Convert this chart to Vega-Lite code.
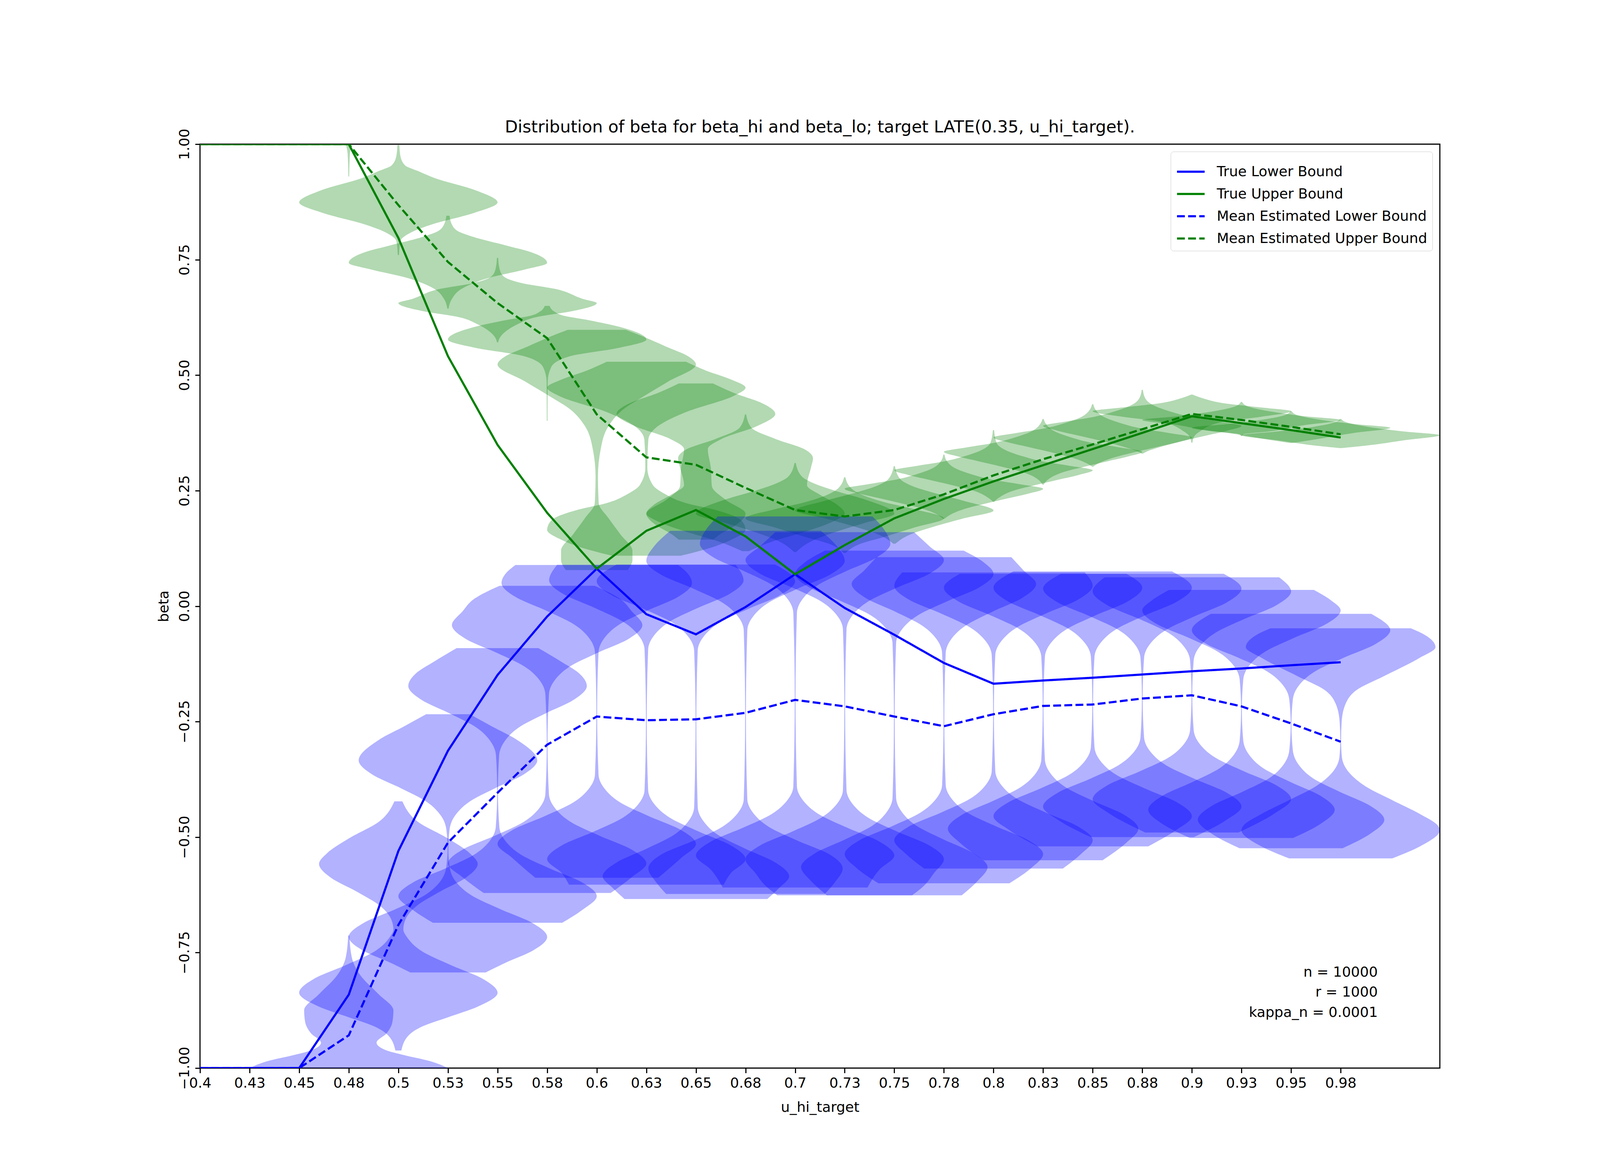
{
  "$schema": "https://vega.github.io/schema/vega-lite/v6.json",
  "width": 3174,
  "height": 2365,
  "autosize": {"type": "none"},
  "padding": {"left": 512, "top": 369, "right": 410, "bottom": 338},
  "background": "white",
  "title": {
    "text": "Distribution of beta for beta_hi and beta_lo; target LATE(0.35, u_hi_target).",
    "fontSize": 43, "fontWeight": "normal", "color": "black", "font": "DejaVu Sans",
    "anchor": "middle", "frame": "group", "offset": 18, "dy": 37
  },
  "config": {
    "font": "DejaVu Sans",
    "view": {"stroke": "black", "strokeWidth": 2.9},
    "axis": {
      "grid": false, "domain": false, "tickColor": "black", "tickWidth": 2.9, "tickSize": 12.5,
      "labelFontSize": 36, "labelColor": "black", "titleFontSize": 36, "titleColor": "black",
      "titleFontWeight": "normal", "labelFont": "DejaVu Sans", "titleFont": "DejaVu Sans",
      "labelFlush": false, "labelOverlap": false
    },
    "legend": {
      "padding": 13, "strokeColor": "#cccccc", "cornerRadius": 7, "fillColor": "white",
      "labelFontSize": 36, "labelColor": "black", "labelFont": "DejaVu Sans", "symbolType": "stroke", "symbolSize": 5000,
      "symbolStrokeWidth": 5.5, "labelOffset": 28, "rowPadding": -10, "labelLimit": 2000
    }
  },
  "datasets": {
    "hi": [
      {"c":0.475,"b":1.0,"l":0.4735,"h":0.4765},{"c":0.475,"b":0.98,"l":0.4744,"h":0.4756},{"c":0.475,"b":0.93,"l":0.4748,"h":0.4752},
      {"c":0.5,"b":0.998,"l":0.4995,"h":0.5005},{"c":0.5,"b":0.975,"l":0.499,"h":0.501},{"c":0.5,"b":0.954,"l":0.4966,"h":0.5034},{"c":0.5,"b":0.942,"l":0.4902,"h":0.5098},{"c":0.5,"b":0.927,"l":0.482,"h":0.518},{"c":0.5,"b":0.9,"l":0.461,"h":0.539},{"c":0.5,"b":0.874,"l":0.45,"h":0.55},{"c":0.5,"b":0.851,"l":0.462,"h":0.538},{"c":0.5,"b":0.827,"l":0.4825,"h":0.5175},{"c":0.5,"b":0.808,"l":0.494,"h":0.506},{"c":0.5,"b":0.79,"l":0.499,"h":0.501},{"c":0.5,"b":0.76,"l":0.4997,"h":0.5003},
      {"c":0.525,"b":0.845,"l":0.5242,"h":0.5258},{"c":0.525,"b":0.826,"l":0.523,"h":0.527},{"c":0.525,"b":0.811,"l":0.5197,"h":0.5303},{"c":0.525,"b":0.799,"l":0.512,"h":0.538},{"c":0.525,"b":0.781,"l":0.496,"h":0.554},{"c":0.525,"b":0.766,"l":0.483,"h":0.567},{"c":0.525,"b":0.743,"l":0.475,"h":0.575},{"c":0.525,"b":0.729,"l":0.486,"h":0.564},{"c":0.525,"b":0.711,"l":0.504,"h":0.546},{"c":0.525,"b":0.687,"l":0.518,"h":0.532},{"c":0.525,"b":0.665,"l":0.523,"h":0.527},{"c":0.525,"b":0.644,"l":0.5247,"h":0.5253},
      {"c":0.55,"b":0.754,"l":0.5497,"h":0.5503},{"c":0.55,"b":0.73,"l":0.549,"h":0.551},{"c":0.55,"b":0.714,"l":0.547,"h":0.553},{"c":0.55,"b":0.699,"l":0.5375,"h":0.5625},{"c":0.55,"b":0.687,"l":0.5214,"h":0.5786},{"c":0.55,"b":0.665,"l":0.507,"h":0.593},{"c":0.55,"b":0.656,"l":0.5,"h":0.6},{"c":0.55,"b":0.638,"l":0.513,"h":0.587},{"c":0.55,"b":0.626,"l":0.53,"h":0.57},{"c":0.55,"b":0.61,"l":0.54,"h":0.56},{"c":0.55,"b":0.596,"l":0.5455,"h":0.5545},{"c":0.55,"b":0.58,"l":0.549,"h":0.551},{"c":0.55,"b":0.571,"l":0.5497,"h":0.5503},
      {"c":0.575,"b":0.65,"l":0.5738,"h":0.5762},{"c":0.575,"b":0.638,"l":0.5715,"h":0.5785},{"c":0.575,"b":0.629,"l":0.567,"h":0.583},{"c":0.575,"b":0.62,"l":0.5554,"h":0.5946},{"c":0.575,"b":0.605,"l":0.539,"h":0.611},{"c":0.575,"b":0.577,"l":0.525,"h":0.625},{"c":0.575,"b":0.559,"l":0.539,"h":0.611},{"c":0.575,"b":0.541,"l":0.5634,"h":0.5866},{"c":0.575,"b":0.517,"l":0.573,"h":0.577},{"c":0.575,"b":0.486,"l":0.5747,"h":0.5753},{"c":0.575,"b":0.401,"l":0.5748,"h":0.5752},
      {"c":0.6,"b":0.598,"l":0.5854,"h":0.6146},{"c":0.6,"b":0.583,"l":0.5764,"h":0.6236},{"c":0.6,"b":0.562,"l":0.5652,"h":0.6348},{"c":0.6,"b":0.541,"l":0.554,"h":0.646},{"c":0.6,"b":0.523,"l":0.55,"h":0.65},{"c":0.6,"b":0.486,"l":0.564,"h":0.636},{"c":0.6,"b":0.455,"l":0.576,"h":0.624},{"c":0.6,"b":0.426,"l":0.5866,"h":0.6134},{"c":0.6,"b":0.39,"l":0.594,"h":0.606},{"c":0.6,"b":0.34,"l":0.598,"h":0.602},{"c":0.6,"b":0.28,"l":0.5994,"h":0.6006},{"c":0.6,"b":0.223,"l":0.599,"h":0.601},{"c":0.6,"b":0.19,"l":0.594,"h":0.606},{"c":0.6,"b":0.155,"l":0.588,"h":0.612},{"c":0.6,"b":0.12,"l":0.582,"h":0.618},{"c":0.6,"b":0.1,"l":0.582,"h":0.618},{"c":0.6,"b":0.078,"l":0.5844,"h":0.6156},
      {"c":0.625,"b":0.529,"l":0.605,"h":0.645},{"c":0.625,"b":0.51,"l":0.595,"h":0.655},{"c":0.625,"b":0.49,"l":0.582,"h":0.668},{"c":0.625,"b":0.473,"l":0.575,"h":0.675},{"c":0.625,"b":0.455,"l":0.581,"h":0.669},{"c":0.625,"b":0.42,"l":0.605,"h":0.645},{"c":0.625,"b":0.386,"l":0.6202,"h":0.6298},{"c":0.625,"b":0.36,"l":0.624,"h":0.626},{"c":0.625,"b":0.3,"l":0.6245,"h":0.6255},{"c":0.625,"b":0.262,"l":0.6217,"h":0.6283},{"c":0.625,"b":0.243,"l":0.6157,"h":0.6343},{"c":0.625,"b":0.223,"l":0.605,"h":0.645},{"c":0.625,"b":0.208,"l":0.59,"h":0.66},{"c":0.625,"b":0.185,"l":0.577,"h":0.673},{"c":0.625,"b":0.165,"l":0.575,"h":0.675},{"c":0.625,"b":0.146,"l":0.581,"h":0.669},{"c":0.625,"b":0.127,"l":0.592,"h":0.658},{"c":0.625,"b":0.109,"l":0.6077,"h":0.6423},
      {"c":0.65,"b":0.482,"l":0.6414,"h":0.6586},{"c":0.65,"b":0.46,"l":0.63,"h":0.67},{"c":0.65,"b":0.44,"l":0.617,"h":0.683},{"c":0.65,"b":0.416,"l":0.61,"h":0.69},{"c":0.65,"b":0.39,"l":0.619,"h":0.681},{"c":0.65,"b":0.362,"l":0.637,"h":0.663},{"c":0.65,"b":0.34,"l":0.644,"h":0.656},{"c":0.65,"b":0.3,"l":0.6425,"h":0.6575},{"c":0.65,"b":0.26,"l":0.642,"h":0.658},{"c":0.65,"b":0.23,"l":0.635,"h":0.665},{"c":0.65,"b":0.2,"l":0.625,"h":0.675},{"c":0.65,"b":0.175,"l":0.63,"h":0.67},{"c":0.65,"b":0.155,"l":0.638,"h":0.662},{"c":0.65,"b":0.144,"l":0.6413,"h":0.6587},
      {"c":0.675,"b":0.415,"l":0.6747,"h":0.6753},{"c":0.675,"b":0.386,"l":0.672,"h":0.678},{"c":0.675,"b":0.362,"l":0.66,"h":0.69},{"c":0.675,"b":0.339,"l":0.645,"h":0.705},{"c":0.675,"b":0.32,"l":0.641,"h":0.709},{"c":0.675,"b":0.3,"l":0.642,"h":0.708},{"c":0.675,"b":0.262,"l":0.644,"h":0.706},{"c":0.675,"b":0.24,"l":0.637,"h":0.713},{"c":0.675,"b":0.22,"l":0.629,"h":0.721},{"c":0.675,"b":0.2,"l":0.625,"h":0.725},{"c":0.675,"b":0.185,"l":0.63,"h":0.72},{"c":0.675,"b":0.161,"l":0.645,"h":0.705},{"c":0.675,"b":0.142,"l":0.66,"h":0.69},{"c":0.675,"b":0.119,"l":0.6733,"h":0.6767},
      {"c":0.7,"b":0.31,"l":0.6997,"h":0.7003},{"c":0.7,"b":0.281,"l":0.6967,"h":0.7033},{"c":0.7,"b":0.266,"l":0.6907,"h":0.7093},{"c":0.7,"b":0.25,"l":0.68,"h":0.72},{"c":0.7,"b":0.231,"l":0.665,"h":0.735},{"c":0.7,"b":0.2,"l":0.65,"h":0.75},{"c":0.7,"b":0.18,"l":0.665,"h":0.735},{"c":0.7,"b":0.16,"l":0.68,"h":0.72},{"c":0.7,"b":0.14,"l":0.692,"h":0.708},{"c":0.7,"b":0.117,"l":0.6995,"h":0.7005},
      {"c":0.725,"b":0.279,"l":0.7247,"h":0.7253},{"c":0.725,"b":0.255,"l":0.7217,"h":0.7283},{"c":0.725,"b":0.24,"l":0.7157,"h":0.7343},{"c":0.725,"b":0.225,"l":0.705,"h":0.745},{"c":0.725,"b":0.21,"l":0.69,"h":0.76},{"c":0.725,"b":0.19,"l":0.675,"h":0.775},{"c":0.725,"b":0.17,"l":0.69,"h":0.76},{"c":0.725,"b":0.15,"l":0.705,"h":0.745},{"c":0.725,"b":0.135,"l":0.717,"h":0.733},{"c":0.725,"b":0.115,"l":0.7245,"h":0.7255},
      {"c":0.75,"b":0.303,"l":0.7497,"h":0.7503},{"c":0.75,"b":0.275,"l":0.747,"h":0.753},{"c":0.75,"b":0.26,"l":0.741,"h":0.759},{"c":0.75,"b":0.245,"l":0.73,"h":0.77},{"c":0.75,"b":0.228,"l":0.715,"h":0.785},{"c":0.75,"b":0.207,"l":0.7,"h":0.8},{"c":0.75,"b":0.19,"l":0.715,"h":0.785},{"c":0.75,"b":0.172,"l":0.73,"h":0.77},{"c":0.75,"b":0.155,"l":0.742,"h":0.758},{"c":0.75,"b":0.135,"l":0.7495,"h":0.7505},
      {"c":0.775,"b":0.328,"l":0.7747,"h":0.7753},{"c":0.775,"b":0.314,"l":0.7735,"h":0.7765},{"c":0.775,"b":0.299,"l":0.7695,"h":0.7805},{"c":0.775,"b":0.284,"l":0.76,"h":0.79},{"c":0.775,"b":0.274,"l":0.751,"h":0.799},{"c":0.775,"b":0.264,"l":0.737,"h":0.813},{"c":0.775,"b":0.254,"l":0.725,"h":0.825},{"c":0.775,"b":0.244,"l":0.732,"h":0.818},{"c":0.775,"b":0.234,"l":0.742,"h":0.808},{"c":0.775,"b":0.224,"l":0.752,"h":0.798},{"c":0.775,"b":0.209,"l":0.7655,"h":0.7845},{"c":0.775,"b":0.196,"l":0.7725,"h":0.7775},{"c":0.775,"b":0.189,"l":0.7747,"h":0.7753},
      {"c":0.8,"b":0.381,"l":0.7997,"h":0.8003},{"c":0.8,"b":0.354,"l":0.7985,"h":0.8015},{"c":0.8,"b":0.339,"l":0.7945,"h":0.8055},{"c":0.8,"b":0.324,"l":0.785,"h":0.815},{"c":0.8,"b":0.314,"l":0.776,"h":0.824},{"c":0.8,"b":0.304,"l":0.762,"h":0.838},{"c":0.8,"b":0.294,"l":0.75,"h":0.85},{"c":0.8,"b":0.284,"l":0.757,"h":0.843},{"c":0.8,"b":0.274,"l":0.767,"h":0.833},{"c":0.8,"b":0.264,"l":0.777,"h":0.823},{"c":0.8,"b":0.249,"l":0.7905,"h":0.8095},{"c":0.8,"b":0.234,"l":0.7975,"h":0.8025},{"c":0.8,"b":0.226,"l":0.7997,"h":0.8003},
      {"c":0.825,"b":0.405,"l":0.8247,"h":0.8253},{"c":0.825,"b":0.394,"l":0.8235,"h":0.8265},{"c":0.825,"b":0.379,"l":0.8195,"h":0.8305},{"c":0.825,"b":0.364,"l":0.81,"h":0.84},{"c":0.825,"b":0.354,"l":0.801,"h":0.849},{"c":0.825,"b":0.344,"l":0.787,"h":0.863},{"c":0.825,"b":0.334,"l":0.775,"h":0.875},{"c":0.825,"b":0.324,"l":0.782,"h":0.868},{"c":0.825,"b":0.314,"l":0.792,"h":0.858},{"c":0.825,"b":0.304,"l":0.802,"h":0.848},{"c":0.825,"b":0.289,"l":0.8155,"h":0.8345},{"c":0.825,"b":0.274,"l":0.8225,"h":0.8275},{"c":0.825,"b":0.263,"l":0.8247,"h":0.8253},
      {"c":0.85,"b":0.437,"l":0.8497,"h":0.8503},{"c":0.85,"b":0.425,"l":0.8485,"h":0.8515},{"c":0.85,"b":0.41,"l":0.8445,"h":0.8555},{"c":0.85,"b":0.395,"l":0.835,"h":0.865},{"c":0.85,"b":0.385,"l":0.826,"h":0.874},{"c":0.85,"b":0.375,"l":0.812,"h":0.888},{"c":0.85,"b":0.365,"l":0.8,"h":0.9},{"c":0.85,"b":0.355,"l":0.807,"h":0.893},{"c":0.85,"b":0.345,"l":0.817,"h":0.883},{"c":0.85,"b":0.335,"l":0.827,"h":0.873},{"c":0.85,"b":0.32,"l":0.8405,"h":0.8595},{"c":0.85,"b":0.308,"l":0.8475,"h":0.8525},{"c":0.85,"b":0.302,"l":0.8497,"h":0.8503},
      {"c":0.875,"b":0.468,"l":0.8747,"h":0.8753},{"c":0.875,"b":0.45,"l":0.8735,"h":0.8765},{"c":0.875,"b":0.435,"l":0.8695,"h":0.8805},{"c":0.875,"b":0.42,"l":0.86,"h":0.89},{"c":0.875,"b":0.41,"l":0.851,"h":0.899},{"c":0.875,"b":0.4,"l":0.837,"h":0.913},{"c":0.875,"b":0.39,"l":0.825,"h":0.925},{"c":0.875,"b":0.38,"l":0.832,"h":0.918},{"c":0.875,"b":0.37,"l":0.842,"h":0.908},{"c":0.875,"b":0.36,"l":0.852,"h":0.898},{"c":0.875,"b":0.345,"l":0.8655,"h":0.8845},{"c":0.875,"b":0.335,"l":0.8725,"h":0.8775},{"c":0.875,"b":0.33,"l":0.8747,"h":0.8753},
      {"c":0.9,"b":0.458,"l":0.8997,"h":0.9003},{"c":0.9,"b":0.45,"l":0.8945,"h":0.9055},{"c":0.9,"b":0.439,"l":0.8834,"h":0.9166},{"c":0.9,"b":0.43,"l":0.865,"h":0.935},{"c":0.9,"b":0.422,"l":0.85,"h":0.95},{"c":0.9,"b":0.41,"l":0.865,"h":0.935},{"c":0.9,"b":0.4,"l":0.8834,"h":0.9166},{"c":0.9,"b":0.378,"l":0.896,"h":0.904},{"c":0.9,"b":0.366,"l":0.899,"h":0.901},{"c":0.9,"b":0.354,"l":0.8997,"h":0.9003},
      {"c":0.925,"b":0.442,"l":0.9247,"h":0.9253},{"c":0.925,"b":0.433,"l":0.9222,"h":0.9278},{"c":0.925,"b":0.422,"l":0.9112,"h":0.9388},{"c":0.925,"b":0.411,"l":0.893,"h":0.957},{"c":0.925,"b":0.403,"l":0.875,"h":0.975},{"c":0.925,"b":0.392,"l":0.893,"h":0.957},{"c":0.925,"b":0.378,"l":0.9112,"h":0.9388},{"c":0.925,"b":0.372,"l":0.924,"h":0.926},{"c":0.925,"b":0.368,"l":0.9247,"h":0.9253},
      {"c":0.95,"b":0.422,"l":0.9497,"h":0.9503},{"c":0.95,"b":0.414,"l":0.9472,"h":0.9528},{"c":0.95,"b":0.404,"l":0.9362,"h":0.9638},{"c":0.95,"b":0.394,"l":0.918,"h":0.982},{"c":0.95,"b":0.386,"l":0.9,"h":1.0},{"c":0.95,"b":0.375,"l":0.918,"h":0.982},{"c":0.95,"b":0.362,"l":0.9362,"h":0.9638},{"c":0.95,"b":0.353,"l":0.9497,"h":0.9503},
      {"c":0.975,"b":0.405,"l":0.9747,"h":0.9753},{"c":0.975,"b":0.398,"l":0.9722,"h":0.9778},{"c":0.975,"b":0.388,"l":0.9612,"h":0.9888},{"c":0.975,"b":0.378,"l":0.943,"h":1.007},{"c":0.975,"b":0.37,"l":0.925,"h":1.025},{"c":0.975,"b":0.359,"l":0.943,"h":1.007},{"c":0.975,"b":0.348,"l":0.9612,"h":0.9888},{"c":0.975,"b":0.342,"l":0.9747,"h":0.9753}
    ],
    "lo": [
      {"c":0.475,"b":-0.713,"l":0.4747,"h":0.4753},{"c":0.475,"b":-0.76,"l":0.4735,"h":0.4765},{"c":0.475,"b":-0.8,"l":0.469,"h":0.481},{"c":0.475,"b":-0.84,"l":0.46,"h":0.49},{"c":0.475,"b":-0.875,"l":0.4525,"h":0.4975},{"c":0.475,"b":-0.9,"l":0.453,"h":0.497},{"c":0.475,"b":-0.925,"l":0.456,"h":0.494},{"c":0.475,"b":-0.945,"l":0.461,"h":0.489},{"c":0.475,"b":-0.961,"l":0.4564,"h":0.4936},{"c":0.475,"b":-0.971,"l":0.448,"h":0.502},{"c":0.475,"b":-0.985,"l":0.434,"h":0.516},{"c":0.475,"b":-1.0,"l":0.425,"h":0.525},
      {"c":0.5,"b":-0.4226,"l":0.498,"h":0.502},{"c":0.5,"b":-0.467,"l":0.4901,"h":0.5099},{"c":0.5,"b":-0.503,"l":0.475,"h":0.525},{"c":0.5,"b":-0.535,"l":0.464,"h":0.536},{"c":0.5,"b":-0.558,"l":0.46,"h":0.54},{"c":0.5,"b":-0.588,"l":0.466,"h":0.534},{"c":0.5,"b":-0.618,"l":0.479,"h":0.521},{"c":0.5,"b":-0.648,"l":0.4905,"h":0.5095},{"c":0.5,"b":-0.678,"l":0.4964,"h":0.5036},{"c":0.5,"b":-0.7,"l":0.4975,"h":0.5025},{"c":0.5,"b":-0.717,"l":0.4956,"h":0.5044},{"c":0.5,"b":-0.747,"l":0.4882,"h":0.5118},{"c":0.5,"b":-0.777,"l":0.4736,"h":0.5264},{"c":0.5,"b":-0.807,"l":0.4574,"h":0.5426},{"c":0.5,"b":-0.837,"l":0.45,"h":0.55},{"c":0.5,"b":-0.867,"l":0.46,"h":0.54},{"c":0.5,"b":-0.89,"l":0.475,"h":0.525},{"c":0.5,"b":-0.91,"l":0.488,"h":0.512},{"c":0.5,"b":-0.93,"l":0.495,"h":0.505},{"c":0.5,"b":-0.962,"l":0.4985,"h":0.5015},
      {"c":0.525,"b":-0.234,"l":0.514,"h":0.536},{"c":0.525,"b":-0.26,"l":0.503,"h":0.547},{"c":0.525,"b":-0.29,"l":0.49,"h":0.56},{"c":0.525,"b":-0.334,"l":0.48,"h":0.57},{"c":0.525,"b":-0.364,"l":0.4867,"h":0.5633},{"c":0.525,"b":-0.394,"l":0.5012,"h":0.5488},{"c":0.525,"b":-0.424,"l":0.5144,"h":0.5356},{"c":0.525,"b":-0.454,"l":0.5215,"h":0.5285},{"c":0.525,"b":-0.484,"l":0.5242,"h":0.5258},{"c":0.525,"b":-0.525,"l":0.5248,"h":0.5252},{"c":0.525,"b":-0.566,"l":0.5241,"h":0.5259},{"c":0.525,"b":-0.596,"l":0.5211,"h":0.5289},{"c":0.525,"b":-0.626,"l":0.5132,"h":0.5368},{"c":0.525,"b":-0.656,"l":0.4986,"h":0.5514},{"c":0.525,"b":-0.686,"l":0.4824,"h":0.5676},{"c":0.525,"b":-0.716,"l":0.475,"h":0.575},{"c":0.525,"b":-0.746,"l":0.4824,"h":0.5676},{"c":0.525,"b":-0.77,"l":0.495,"h":0.555},{"c":0.525,"b":-0.793,"l":0.506,"h":0.544},
      {"c":0.55,"b":-0.091,"l":0.5294,"h":0.5706},{"c":0.55,"b":-0.12,"l":0.518,"h":0.582},{"c":0.55,"b":-0.145,"l":0.509,"h":0.591},{"c":0.55,"b":-0.173,"l":0.505,"h":0.595},{"c":0.55,"b":-0.203,"l":0.5117,"h":0.5883},{"c":0.55,"b":-0.233,"l":0.5262,"h":0.5738},{"c":0.55,"b":-0.263,"l":0.5394,"h":0.5606},{"c":0.55,"b":-0.293,"l":0.5465,"h":0.5535},{"c":0.55,"b":-0.323,"l":0.5492,"h":0.5508},{"c":0.55,"b":-0.4,"l":0.5498,"h":0.5502},{"c":0.55,"b":-0.478,"l":0.5491,"h":0.5509},{"c":0.55,"b":-0.508,"l":0.5461,"h":0.5539},{"c":0.55,"b":-0.538,"l":0.5382,"h":0.5618},{"c":0.55,"b":-0.568,"l":0.5236,"h":0.5764},{"c":0.55,"b":-0.598,"l":0.5074,"h":0.5926},{"c":0.55,"b":-0.628,"l":0.5,"h":0.6},{"c":0.55,"b":-0.658,"l":0.5074,"h":0.5926},{"c":0.55,"b":-0.6855,"l":0.5174,"h":0.5826},
      {"c":0.575,"b":0.044,"l":0.551,"h":0.599},{"c":0.575,"b":0.015,"l":0.538,"h":0.612},{"c":0.575,"b":-0.011,"l":0.5324,"h":0.6176},{"c":0.575,"b":-0.041,"l":0.527,"h":0.623},{"c":0.575,"b":-0.071,"l":0.534,"h":0.616},{"c":0.575,"b":-0.101,"l":0.5496,"h":0.6004},{"c":0.575,"b":-0.131,"l":0.5637,"h":0.5863},{"c":0.575,"b":-0.161,"l":0.5713,"h":0.5787},{"c":0.575,"b":-0.191,"l":0.5741,"h":0.5759},{"c":0.575,"b":-0.3,"l":0.5748,"h":0.5752},{"c":0.575,"b":-0.407,"l":0.5741,"h":0.5759},{"c":0.575,"b":-0.437,"l":0.5711,"h":0.5789},{"c":0.575,"b":-0.467,"l":0.5632,"h":0.5868},{"c":0.575,"b":-0.497,"l":0.5486,"h":0.6014},{"c":0.575,"b":-0.527,"l":0.5324,"h":0.6176},{"c":0.575,"b":-0.557,"l":0.525,"h":0.625},{"c":0.575,"b":-0.587,"l":0.5324,"h":0.6176},{"c":0.575,"b":-0.621,"l":0.543,"h":0.607},
      {"c":0.6,"b":0.089,"l":0.559,"h":0.641},{"c":0.6,"b":0.07,"l":0.554,"h":0.646},{"c":0.6,"b":0.05,"l":0.552,"h":0.648},{"c":0.6,"b":0.02,"l":0.559,"h":0.641},{"c":0.6,"b":-0.01,"l":0.5746,"h":0.6254},{"c":0.6,"b":-0.04,"l":0.5887,"h":0.6113},{"c":0.6,"b":-0.07,"l":0.5963,"h":0.6037},{"c":0.6,"b":-0.1,"l":0.5991,"h":0.6009},{"c":0.6,"b":-0.23,"l":0.5998,"h":0.6002},{"c":0.6,"b":-0.365,"l":0.5991,"h":0.6009},{"c":0.6,"b":-0.395,"l":0.5961,"h":0.6039},{"c":0.6,"b":-0.425,"l":0.5882,"h":0.6118},{"c":0.6,"b":-0.455,"l":0.5736,"h":0.6264},{"c":0.6,"b":-0.485,"l":0.5574,"h":0.6426},{"c":0.6,"b":-0.515,"l":0.55,"h":0.65},{"c":0.6,"b":-0.545,"l":0.5574,"h":0.6426},{"c":0.6,"b":-0.588,"l":0.569,"h":0.631},
      {"c":0.625,"b":0.0895,"l":0.58,"h":0.67},{"c":0.625,"b":0.056,"l":0.576,"h":0.674},{"c":0.625,"b":0.026,"l":0.5832,"h":0.6668},{"c":0.625,"b":-0.004,"l":0.5991,"h":0.6509},{"c":0.625,"b":-0.034,"l":0.6134,"h":0.6366},{"c":0.625,"b":-0.064,"l":0.6212,"h":0.6288},{"c":0.625,"b":-0.094,"l":0.6241,"h":0.6259},{"c":0.625,"b":-0.25,"l":0.6248,"h":0.6252},{"c":0.625,"b":-0.398,"l":0.6241,"h":0.6259},{"c":0.625,"b":-0.428,"l":0.6211,"h":0.6289},{"c":0.625,"b":-0.458,"l":0.6132,"h":0.6368},{"c":0.625,"b":-0.488,"l":0.5986,"h":0.6514},{"c":0.625,"b":-0.518,"l":0.5824,"h":0.6676},{"c":0.625,"b":-0.548,"l":0.575,"h":0.675},{"c":0.625,"b":-0.578,"l":0.5824,"h":0.6676},{"c":0.625,"b":-0.603,"l":0.586,"h":0.664},
      {"c":0.65,"b":0.09,"l":0.61,"h":0.69},{"c":0.65,"b":0.054,"l":0.6,"h":0.7},{"c":0.65,"b":0.024,"l":0.6074,"h":0.6926},{"c":0.65,"b":-0.006,"l":0.6236,"h":0.6764},{"c":0.65,"b":-0.036,"l":0.6382,"h":0.6618},{"c":0.65,"b":-0.066,"l":0.6461,"h":0.6539},{"c":0.65,"b":-0.096,"l":0.6491,"h":0.6509},{"c":0.65,"b":-0.25,"l":0.6498,"h":0.6502},{"c":0.65,"b":-0.435,"l":0.6491,"h":0.6509},{"c":0.65,"b":-0.465,"l":0.6463,"h":0.6537},{"c":0.65,"b":-0.495,"l":0.639,"h":0.661},{"c":0.65,"b":-0.525,"l":0.6252,"h":0.6748},{"c":0.65,"b":-0.555,"l":0.61,"h":0.69},{"c":0.65,"b":-0.585,"l":0.603,"h":0.697},{"c":0.65,"b":-0.61,"l":0.608,"h":0.692},{"c":0.65,"b":-0.634,"l":0.614,"h":0.686},
      {"c":0.675,"b":0.163,"l":0.637,"h":0.713},{"c":0.675,"b":0.13,"l":0.629,"h":0.721},{"c":0.675,"b":0.098,"l":0.625,"h":0.725},{"c":0.675,"b":0.068,"l":0.6324,"h":0.7176},{"c":0.675,"b":0.038,"l":0.6486,"h":0.7014},{"c":0.675,"b":0.008,"l":0.6632,"h":0.6868},{"c":0.675,"b":-0.022,"l":0.6711,"h":0.6789},{"c":0.675,"b":-0.052,"l":0.6741,"h":0.6759},{"c":0.675,"b":-0.24,"l":0.6748,"h":0.6752},{"c":0.675,"b":-0.418,"l":0.6741,"h":0.6759},{"c":0.675,"b":-0.448,"l":0.6711,"h":0.6789},{"c":0.675,"b":-0.478,"l":0.6632,"h":0.6868},{"c":0.675,"b":-0.508,"l":0.6486,"h":0.7014},{"c":0.675,"b":-0.538,"l":0.6324,"h":0.7176},{"c":0.675,"b":-0.568,"l":0.626,"h":0.724},{"c":0.675,"b":-0.598,"l":0.63,"h":0.72},{"c":0.675,"b":-0.623,"l":0.635,"h":0.715},
      {"c":0.7,"b":0.194,"l":0.661,"h":0.739},{"c":0.7,"b":0.165,"l":0.655,"h":0.745},{"c":0.7,"b":0.135,"l":0.652,"h":0.748},{"c":0.7,"b":0.105,"l":0.659,"h":0.741},{"c":0.7,"b":0.075,"l":0.6746,"h":0.7254},{"c":0.7,"b":0.045,"l":0.6887,"h":0.7113},{"c":0.7,"b":0.015,"l":0.6963,"h":0.7037},{"c":0.7,"b":-0.015,"l":0.6991,"h":0.7009},{"c":0.7,"b":-0.2,"l":0.6998,"h":0.7002},{"c":0.7,"b":-0.39,"l":0.6991,"h":0.7009},{"c":0.7,"b":-0.42,"l":0.6961,"h":0.7039},{"c":0.7,"b":-0.45,"l":0.6882,"h":0.7118},{"c":0.7,"b":-0.48,"l":0.6736,"h":0.7264},{"c":0.7,"b":-0.51,"l":0.6574,"h":0.7426},{"c":0.7,"b":-0.54,"l":0.65,"h":0.75},{"c":0.7,"b":-0.57,"l":0.6574,"h":0.7426},{"c":0.7,"b":-0.609,"l":0.6635,"h":0.7365},
      {"c":0.725,"b":0.16,"l":0.69,"h":0.76},{"c":0.725,"b":0.13,"l":0.6824,"h":0.7676},{"c":0.725,"b":0.1,"l":0.675,"h":0.775},{"c":0.725,"b":0.07,"l":0.6824,"h":0.7676},{"c":0.725,"b":0.04,"l":0.6986,"h":0.7514},{"c":0.725,"b":0.01,"l":0.7132,"h":0.7368},{"c":0.725,"b":-0.02,"l":0.7211,"h":0.7289},{"c":0.725,"b":-0.05,"l":0.7241,"h":0.7259},{"c":0.725,"b":-0.22,"l":0.7248,"h":0.7252},{"c":0.725,"b":-0.398,"l":0.7241,"h":0.7259},{"c":0.725,"b":-0.428,"l":0.7211,"h":0.7289},{"c":0.725,"b":-0.458,"l":0.7132,"h":0.7368},{"c":0.725,"b":-0.488,"l":0.6986,"h":0.7514},{"c":0.725,"b":-0.518,"l":0.6824,"h":0.7676},{"c":0.725,"b":-0.548,"l":0.675,"h":0.775},{"c":0.725,"b":-0.578,"l":0.68,"h":0.77},{"c":0.725,"b":-0.605,"l":0.685,"h":0.765},{"c":0.725,"b":-0.626,"l":0.691,"h":0.759},
      {"c":0.75,"b":0.12,"l":0.715,"h":0.785},{"c":0.75,"b":0.095,"l":0.705,"h":0.795},{"c":0.75,"b":0.07,"l":0.7,"h":0.8},{"c":0.75,"b":0.04,"l":0.7074,"h":0.7926},{"c":0.75,"b":0.01,"l":0.7236,"h":0.7764},{"c":0.75,"b":-0.02,"l":0.7382,"h":0.7618},{"c":0.75,"b":-0.05,"l":0.7461,"h":0.7539},{"c":0.75,"b":-0.08,"l":0.7491,"h":0.7509},{"c":0.75,"b":-0.24,"l":0.7498,"h":0.7502},{"c":0.75,"b":-0.415,"l":0.7491,"h":0.7509},{"c":0.75,"b":-0.445,"l":0.7463,"h":0.7537},{"c":0.75,"b":-0.475,"l":0.739,"h":0.761},{"c":0.75,"b":-0.505,"l":0.7252,"h":0.7748},{"c":0.75,"b":-0.535,"l":0.71,"h":0.79},{"c":0.75,"b":-0.565,"l":0.703,"h":0.797},{"c":0.75,"b":-0.595,"l":0.708,"h":0.792},{"c":0.75,"b":-0.626,"l":0.716,"h":0.784},
      {"c":0.775,"b":0.106,"l":0.741,"h":0.809},{"c":0.775,"b":0.078,"l":0.735,"h":0.815},{"c":0.775,"b":0.048,"l":0.7285,"h":0.8215},{"c":0.775,"b":0.018,"l":0.7354,"h":0.8146},{"c":0.775,"b":-0.012,"l":0.7505,"h":0.7995},{"c":0.775,"b":-0.042,"l":0.764,"h":0.786},{"c":0.775,"b":-0.072,"l":0.7714,"h":0.7786},{"c":0.775,"b":-0.102,"l":0.7741,"h":0.7759},{"c":0.775,"b":-0.245,"l":0.7748,"h":0.7752},{"c":0.775,"b":-0.387,"l":0.7741,"h":0.7759},{"c":0.775,"b":-0.417,"l":0.7711,"h":0.7789},{"c":0.775,"b":-0.447,"l":0.7632,"h":0.7868},{"c":0.775,"b":-0.477,"l":0.7486,"h":0.8014},{"c":0.775,"b":-0.507,"l":0.7324,"h":0.8176},{"c":0.775,"b":-0.537,"l":0.725,"h":0.825},{"c":0.775,"b":-0.567,"l":0.731,"h":0.819},{"c":0.775,"b":-0.6,"l":0.742,"h":0.808},
      {"c":0.8,"b":0.073,"l":0.754,"h":0.846},{"c":0.8,"b":0.044,"l":0.75,"h":0.85},{"c":0.8,"b":0.014,"l":0.7574,"h":0.8426},{"c":0.8,"b":-0.016,"l":0.7736,"h":0.8264},{"c":0.8,"b":-0.046,"l":0.7882,"h":0.8118},{"c":0.8,"b":-0.076,"l":0.7961,"h":0.8039},{"c":0.8,"b":-0.106,"l":0.7991,"h":0.8009},{"c":0.8,"b":-0.23,"l":0.7998,"h":0.8002},{"c":0.8,"b":-0.357,"l":0.7991,"h":0.8009},{"c":0.8,"b":-0.387,"l":0.7961,"h":0.8039},{"c":0.8,"b":-0.417,"l":0.7882,"h":0.8118},{"c":0.8,"b":-0.447,"l":0.7736,"h":0.8264},{"c":0.8,"b":-0.477,"l":0.7574,"h":0.8426},{"c":0.8,"b":-0.507,"l":0.75,"h":0.85},{"c":0.8,"b":-0.537,"l":0.756,"h":0.844},{"c":0.8,"b":-0.568,"l":0.765,"h":0.835},
      {"c":0.825,"b":0.07,"l":0.783,"h":0.867},{"c":0.825,"b":0.04,"l":0.775,"h":0.875},{"c":0.825,"b":0.01,"l":0.7824,"h":0.8676},{"c":0.825,"b":-0.02,"l":0.7986,"h":0.8514},{"c":0.825,"b":-0.05,"l":0.8132,"h":0.8368},{"c":0.825,"b":-0.08,"l":0.8211,"h":0.8289},{"c":0.825,"b":-0.11,"l":0.8241,"h":0.8259},{"c":0.825,"b":-0.22,"l":0.8248,"h":0.8252},{"c":0.825,"b":-0.332,"l":0.8241,"h":0.8259},{"c":0.825,"b":-0.362,"l":0.8213,"h":0.8287},{"c":0.825,"b":-0.392,"l":0.8137,"h":0.8363},{"c":0.825,"b":-0.422,"l":0.7996,"h":0.8504},{"c":0.825,"b":-0.452,"l":0.784,"h":0.866},{"c":0.825,"b":-0.482,"l":0.777,"h":0.873},{"c":0.825,"b":-0.512,"l":0.783,"h":0.867},{"c":0.825,"b":-0.55,"l":0.795,"h":0.855},
      {"c":0.85,"b":0.075,"l":0.81,"h":0.89},{"c":0.85,"b":0.04,"l":0.8,"h":0.9},{"c":0.85,"b":0.01,"l":0.8074,"h":0.8926},{"c":0.85,"b":-0.02,"l":0.8236,"h":0.8764},{"c":0.85,"b":-0.05,"l":0.8382,"h":0.8618},{"c":0.85,"b":-0.08,"l":0.8461,"h":0.8539},{"c":0.85,"b":-0.11,"l":0.8491,"h":0.8509},{"c":0.85,"b":-0.21,"l":0.8498,"h":0.8502},{"c":0.85,"b":-0.305,"l":0.8491,"h":0.8509},{"c":0.85,"b":-0.335,"l":0.8461,"h":0.8539},{"c":0.85,"b":-0.365,"l":0.8382,"h":0.8618},{"c":0.85,"b":-0.395,"l":0.8236,"h":0.8764},{"c":0.85,"b":-0.425,"l":0.8074,"h":0.8926},{"c":0.85,"b":-0.455,"l":0.8,"h":0.9},{"c":0.85,"b":-0.485,"l":0.808,"h":0.892},{"c":0.85,"b":-0.52,"l":0.822,"h":0.878},
      {"c":0.875,"b":0.07,"l":0.834,"h":0.916},{"c":0.875,"b":0.038,"l":0.825,"h":0.925},{"c":0.875,"b":0.008,"l":0.8324,"h":0.9176},{"c":0.875,"b":-0.022,"l":0.8486,"h":0.9014},{"c":0.875,"b":-0.052,"l":0.8632,"h":0.8868},{"c":0.875,"b":-0.082,"l":0.8711,"h":0.8789},{"c":0.875,"b":-0.112,"l":0.8741,"h":0.8759},{"c":0.875,"b":-0.2,"l":0.8748,"h":0.8752},{"c":0.875,"b":-0.284,"l":0.8741,"h":0.8759},{"c":0.875,"b":-0.314,"l":0.8711,"h":0.8789},{"c":0.875,"b":-0.344,"l":0.8632,"h":0.8868},{"c":0.875,"b":-0.374,"l":0.8486,"h":0.9014},{"c":0.875,"b":-0.404,"l":0.8324,"h":0.9176},{"c":0.875,"b":-0.434,"l":0.825,"h":0.925},{"c":0.875,"b":-0.464,"l":0.833,"h":0.917},{"c":0.875,"b":-0.5,"l":0.849,"h":0.901},
      {"c":0.9,"b":0.0624,"l":0.856,"h":0.944},{"c":0.9,"b":0.032,"l":0.85,"h":0.95},{"c":0.9,"b":0.002,"l":0.8574,"h":0.9426},{"c":0.9,"b":-0.028,"l":0.8736,"h":0.9264},{"c":0.9,"b":-0.058,"l":0.8882,"h":0.9118},{"c":0.9,"b":-0.088,"l":0.8961,"h":0.9039},{"c":0.9,"b":-0.118,"l":0.8991,"h":0.9009},{"c":0.9,"b":-0.193,"l":0.8998,"h":0.9002},{"c":0.9,"b":-0.268,"l":0.8991,"h":0.9009},{"c":0.9,"b":-0.298,"l":0.8961,"h":0.9039},{"c":0.9,"b":-0.328,"l":0.8882,"h":0.9118},{"c":0.9,"b":-0.358,"l":0.8736,"h":0.9264},{"c":0.9,"b":-0.388,"l":0.8574,"h":0.9426},{"c":0.9,"b":-0.418,"l":0.85,"h":0.95},{"c":0.9,"b":-0.448,"l":0.858,"h":0.942},{"c":0.9,"b":-0.49,"l":0.8765,"h":0.9235},
      {"c":0.925,"b":0.035,"l":0.8885,"h":0.9615},{"c":0.925,"b":0.013,"l":0.88,"h":0.97},{"c":0.925,"b":-0.009,"l":0.875,"h":0.975},{"c":0.925,"b":-0.039,"l":0.8824,"h":0.9676},{"c":0.925,"b":-0.069,"l":0.8986,"h":0.9514},{"c":0.925,"b":-0.099,"l":0.9132,"h":0.9368},{"c":0.925,"b":-0.129,"l":0.9211,"h":0.9289},{"c":0.925,"b":-0.159,"l":0.9241,"h":0.9259},{"c":0.925,"b":-0.225,"l":0.9248,"h":0.9252},{"c":0.925,"b":-0.291,"l":0.9241,"h":0.9259},{"c":0.925,"b":-0.321,"l":0.9213,"h":0.9287},{"c":0.925,"b":-0.351,"l":0.914,"h":0.936},{"c":0.925,"b":-0.381,"l":0.9002,"h":0.9498},{"c":0.925,"b":-0.411,"l":0.885,"h":0.965},{"c":0.925,"b":-0.441,"l":0.878,"h":0.972},{"c":0.925,"b":-0.471,"l":0.885,"h":0.965},{"c":0.925,"b":-0.502,"l":0.899,"h":0.951},
      {"c":0.95,"b":-0.0166,"l":0.9096,"h":0.9904},{"c":0.95,"b":-0.052,"l":0.9,"h":1.0},{"c":0.95,"b":-0.082,"l":0.9074,"h":0.9926},{"c":0.95,"b":-0.112,"l":0.9236,"h":0.9764},{"c":0.95,"b":-0.142,"l":0.9382,"h":0.9618},{"c":0.95,"b":-0.172,"l":0.9461,"h":0.9539},{"c":0.95,"b":-0.202,"l":0.9491,"h":0.9509},{"c":0.95,"b":-0.257,"l":0.9498,"h":0.9502},{"c":0.95,"b":-0.3125,"l":0.9491,"h":0.9509},{"c":0.95,"b":-0.3425,"l":0.9463,"h":0.9537},{"c":0.95,"b":-0.3725,"l":0.939,"h":0.961},{"c":0.95,"b":-0.4025,"l":0.9252,"h":0.9748},{"c":0.95,"b":-0.4325,"l":0.91,"h":0.99},{"c":0.95,"b":-0.4625,"l":0.903,"h":0.997},{"c":0.95,"b":-0.4925,"l":0.91,"h":0.99},{"c":0.95,"b":-0.524,"l":0.924,"h":0.976},
      {"c":0.975,"b":-0.048,"l":0.9396,"h":1.0104},{"c":0.975,"b":-0.0625,"l":0.9325,"h":1.0175},{"c":0.975,"b":-0.0887,"l":0.9272,"h":1.0228},{"c":0.975,"b":-0.112,"l":0.9352,"h":1.0148},{"c":0.975,"b":-0.152,"l":0.9534,"h":0.9966},{"c":0.975,"b":-0.182,"l":0.9671,"h":0.9829},{"c":0.975,"b":-0.2115,"l":0.9725,"h":0.9775},{"c":0.975,"b":-0.251,"l":0.9745,"h":0.9755},{"c":0.975,"b":-0.291,"l":0.9748,"h":0.9752},{"c":0.975,"b":-0.326,"l":0.9744,"h":0.9756},{"c":0.975,"b":-0.3605,"l":0.9707,"h":0.9793},{"c":0.975,"b":-0.39,"l":0.9625,"h":0.9875},{"c":0.975,"b":-0.42,"l":0.949,"h":1.001},{"c":0.975,"b":-0.45,"l":0.935,"h":1.015},{"c":0.975,"b":-0.475,"l":0.926,"h":1.024},{"c":0.975,"b":-0.485,"l":0.925,"h":1.025},{"c":0.975,"b":-0.52,"l":0.935,"h":1.015},{"c":0.975,"b":-0.546,"l":0.949,"h":1.001}
    ],
    "bounds": [
      {"k":"True Lower Bound","u":0.4,"v":-1},{"k":"True Lower Bound","u":0.425,"v":-1},{"k":"True Lower Bound","u":0.45,"v":-1},{"k":"True Lower Bound","u":0.475,"v":-0.841},{"k":"True Lower Bound","u":0.5,"v":-0.53},{"k":"True Lower Bound","u":0.525,"v":-0.313},{"k":"True Lower Bound","u":0.55,"v":-0.149},{"k":"True Lower Bound","u":0.575,"v":-0.0225},{"k":"True Lower Bound","u":0.6,"v":0.081},{"k":"True Lower Bound","u":0.625,"v":-0.0175},{"k":"True Lower Bound","u":0.65,"v":-0.061},{"k":"True Lower Bound","u":0.675,"v":-0.002},{"k":"True Lower Bound","u":0.7,"v":0.069},{"k":"True Lower Bound","u":0.725,"v":-0.004},{"k":"True Lower Bound","u":0.75,"v":-0.062},{"k":"True Lower Bound","u":0.775,"v":-0.123},{"k":"True Lower Bound","u":0.8,"v":-0.168},{"k":"True Lower Bound","u":0.825,"v":-0.161},{"k":"True Lower Bound","u":0.85,"v":-0.155},{"k":"True Lower Bound","u":0.875,"v":-0.148},{"k":"True Lower Bound","u":0.9,"v":-0.141},{"k":"True Lower Bound","u":0.925,"v":-0.135},{"k":"True Lower Bound","u":0.95,"v":-0.128},{"k":"True Lower Bound","u":0.975,"v":-0.1215},
      {"k":"True Upper Bound","u":0.4,"v":1},{"k":"True Upper Bound","u":0.425,"v":1},{"k":"True Upper Bound","u":0.45,"v":1},{"k":"True Upper Bound","u":0.475,"v":1},{"k":"True Upper Bound","u":0.5,"v":0.797},{"k":"True Upper Bound","u":0.525,"v":0.541},{"k":"True Upper Bound","u":0.55,"v":0.349},{"k":"True Upper Bound","u":0.575,"v":0.202},{"k":"True Upper Bound","u":0.6,"v":0.081},{"k":"True Upper Bound","u":0.625,"v":0.163},{"k":"True Upper Bound","u":0.65,"v":0.208},{"k":"True Upper Bound","u":0.675,"v":0.151},{"k":"True Upper Bound","u":0.7,"v":0.069},{"k":"True Upper Bound","u":0.725,"v":0.132},{"k":"True Upper Bound","u":0.75,"v":0.19},{"k":"True Upper Bound","u":0.775,"v":0.232},{"k":"True Upper Bound","u":0.8,"v":0.27},{"k":"True Upper Bound","u":0.825,"v":0.305},{"k":"True Upper Bound","u":0.85,"v":0.34},{"k":"True Upper Bound","u":0.875,"v":0.375},{"k":"True Upper Bound","u":0.9,"v":0.411},{"k":"True Upper Bound","u":0.925,"v":0.396},{"k":"True Upper Bound","u":0.95,"v":0.381},{"k":"True Upper Bound","u":0.975,"v":0.365},
      {"k":"Mean Estimated Lower Bound","u":0.4,"v":-1},{"k":"Mean Estimated Lower Bound","u":0.425,"v":-1},{"k":"Mean Estimated Lower Bound","u":0.45,"v":-1},{"k":"Mean Estimated Lower Bound","u":0.475,"v":-0.929},{"k":"Mean Estimated Lower Bound","u":0.5,"v":-0.69},{"k":"Mean Estimated Lower Bound","u":0.525,"v":-0.512},{"k":"Mean Estimated Lower Bound","u":0.55,"v":-0.404},{"k":"Mean Estimated Lower Bound","u":0.575,"v":-0.3},{"k":"Mean Estimated Lower Bound","u":0.6,"v":-0.239},{"k":"Mean Estimated Lower Bound","u":0.625,"v":-0.247},{"k":"Mean Estimated Lower Bound","u":0.65,"v":-0.245},{"k":"Mean Estimated Lower Bound","u":0.675,"v":-0.231},{"k":"Mean Estimated Lower Bound","u":0.7,"v":-0.203},{"k":"Mean Estimated Lower Bound","u":0.725,"v":-0.217},{"k":"Mean Estimated Lower Bound","u":0.75,"v":-0.239},{"k":"Mean Estimated Lower Bound","u":0.775,"v":-0.26},{"k":"Mean Estimated Lower Bound","u":0.8,"v":-0.234},{"k":"Mean Estimated Lower Bound","u":0.825,"v":-0.216},{"k":"Mean Estimated Lower Bound","u":0.85,"v":-0.213},{"k":"Mean Estimated Lower Bound","u":0.875,"v":-0.2},{"k":"Mean Estimated Lower Bound","u":0.9,"v":-0.193},{"k":"Mean Estimated Lower Bound","u":0.925,"v":-0.217},{"k":"Mean Estimated Lower Bound","u":0.95,"v":-0.254},{"k":"Mean Estimated Lower Bound","u":0.975,"v":-0.2935},
      {"k":"Mean Estimated Upper Bound","u":0.4,"v":1},{"k":"Mean Estimated Upper Bound","u":0.425,"v":1},{"k":"Mean Estimated Upper Bound","u":0.45,"v":1},{"k":"Mean Estimated Upper Bound","u":0.475,"v":1},{"k":"Mean Estimated Upper Bound","u":0.5,"v":0.868},{"k":"Mean Estimated Upper Bound","u":0.525,"v":0.745},{"k":"Mean Estimated Upper Bound","u":0.55,"v":0.656},{"k":"Mean Estimated Upper Bound","u":0.575,"v":0.58},{"k":"Mean Estimated Upper Bound","u":0.6,"v":0.415},{"k":"Mean Estimated Upper Bound","u":0.625,"v":0.322},{"k":"Mean Estimated Upper Bound","u":0.65,"v":0.306},{"k":"Mean Estimated Upper Bound","u":0.675,"v":0.256},{"k":"Mean Estimated Upper Bound","u":0.7,"v":0.208},{"k":"Mean Estimated Upper Bound","u":0.725,"v":0.194},{"k":"Mean Estimated Upper Bound","u":0.75,"v":0.208},{"k":"Mean Estimated Upper Bound","u":0.775,"v":0.242},{"k":"Mean Estimated Upper Bound","u":0.8,"v":0.283},{"k":"Mean Estimated Upper Bound","u":0.825,"v":0.318},{"k":"Mean Estimated Upper Bound","u":0.85,"v":0.35},{"k":"Mean Estimated Upper Bound","u":0.875,"v":0.383},{"k":"Mean Estimated Upper Bound","u":0.9,"v":0.416},{"k":"Mean Estimated Upper Bound","u":0.925,"v":0.403},{"k":"Mean Estimated Upper Bound","u":0.95,"v":0.388},{"k":"Mean Estimated Upper Bound","u":0.975,"v":0.372}
    ],
    "notes": [
      {"u":0.9937,"v":-0.793,"t":"n = 10000"},
      {"u":0.9937,"v":-0.836,"t":"r = 1000"},
      {"u":0.9937,"v":-0.88,"t":"kappa_n = 0.0001"}
    ]
  },
  "layer": [
    {
      "data": {"name": "hi"},
      "mark": {"type": "area", "orient": "horizontal", "interpolate": "monotone", "color": "#008000", "fillOpacity": 0.3, "clip": true},
      "encoding": {
        "y": {
          "field": "b", "type": "quantitative", "title": "beta",
          "scale": {"domain": [-1, 1], "nice": false, "zero": false},
          "axis": {"values": [-1, -0.75, -0.5, -0.25, 0, 0.25, 0.5, 0.75, 1], "format": ".2f", "labelAngle": 270, "labelAlign": "center", "labelBaseline": "bottom", "labelPadding": 8.5, "titlePadding": 16}
        },
        "x": {
          "field": "l", "type": "quantitative", "title": "u_hi_target",
          "scale": {"domain": [0.4, 1.025], "nice": false, "zero": false},
          "axis": {
            "values": [0.4, 0.425, 0.45, 0.475, 0.5, 0.525, 0.55, 0.575, 0.6, 0.625, 0.65, 0.675, 0.7, 0.725, 0.75, 0.775, 0.8, 0.825, 0.85, 0.875, 0.9, 0.925, 0.95, 0.975],
            "labelExpr": "format(datum.value + 0.000001, '.2~f')",
            "labelPadding": 8.5, "titlePadding": 27
          }
        },
        "x2": {"field": "h"},
        "detail": {"field": "c", "type": "nominal"}
      }
    },
    {
      "data": {"name": "lo"},
      "mark": {"type": "area", "orient": "horizontal", "interpolate": "monotone", "color": "#0000ff", "fillOpacity": 0.3, "clip": true},
      "encoding": {
        "y": {"field": "b", "type": "quantitative", "title": "beta"},
        "x": {"field": "l", "type": "quantitative", "title": "u_hi_target"},
        "x2": {"field": "h"},
        "detail": {"field": "c", "type": "nominal"}
      }
    },
    {
      "data": {"name": "bounds"},
      "mark": {"type": "line", "strokeWidth": 5.5, "clip": true},
      "encoding": {
        "x": {"field": "u", "type": "quantitative", "title": "u_hi_target"},
        "y": {"field": "v", "type": "quantitative", "title": "beta"},
        "color": {
          "field": "k", "type": "nominal",
          "scale": {"domain": ["True Lower Bound", "True Upper Bound", "Mean Estimated Lower Bound", "Mean Estimated Upper Bound"], "range": ["#0000ff", "#008000", "#0000ff", "#008000"]},
          "legend": {"title": null, "orient": "top-right", "offset": 19}
        },
        "strokeDash": {
          "field": "k", "type": "nominal",
          "scale": {"domain": ["True Lower Bound", "True Upper Bound", "Mean Estimated Lower Bound", "Mean Estimated Upper Bound"], "range": [[1, 0], [1, 0], [20, 8.5], [20, 8.5]]},
          "legend": {"title": null, "orient": "top-right", "offset": 19}
        }
      }
    },
    {
      "data": {"name": "notes"},
      "mark": {"type": "text", "align": "right", "baseline": "middle", "fontSize": 36, "color": "black"},
      "encoding": {
        "x": {"field": "u", "type": "quantitative", "title": "u_hi_target"},
        "y": {"field": "v", "type": "quantitative", "title": "beta"},
        "text": {"field": "t"}
      }
    }
  ]
}
